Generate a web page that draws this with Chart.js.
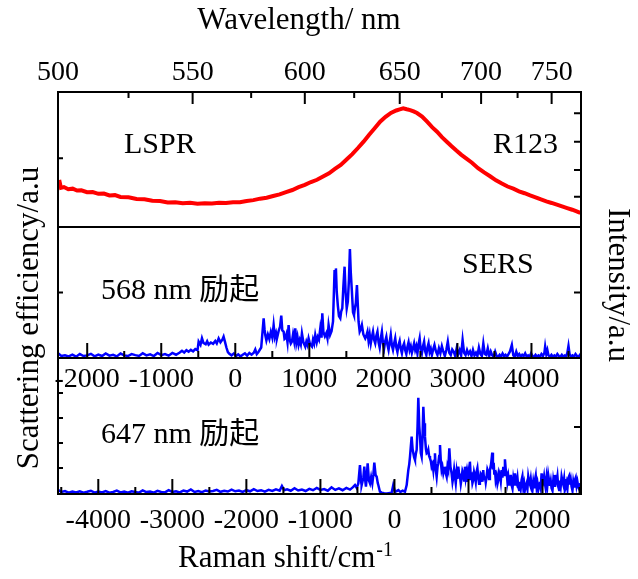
<!DOCTYPE html>
<html>
<head>
<meta charset="utf-8">
<script src="https://cdn.jsdelivr.net/npm/chart.js@4.4.1/dist/chart.umd.min.js"></script>
<style>
  html, body { margin: 0; padding: 0; background: #fff; }
  canvas { display: block; }
</style>
</head>
<body>
<canvas id="spectra" width="638" height="579"></canvas>
<script>
// wavelength window of the shared energy axis (nm)
const lamMin = 500;
const lamMax = 773;
// laser lines used for the two SERS panels (nm)
const excitationMid = 568;
const excitationBot = 647;

const topTickNm = [500, 550, 600, 650, 700, 750];
const topMinorNm = [525, 575, 625, 675, 725];
const midTicks = [-2000, -1000, 0, 1000, 2000, 3000, 4000];
const midMinor = [-1500, -500, 500, 1500, 2500, 3500, 4500];
const botTicks = [-4000, -3000, -2000, -1000, 0, 1000, 2000];
const botMinor = [-4500, -3500, -2500, -1500, -500, 500, 1500, 2500];

// y tick marks on the frame (panel scale is 0-100)
const topLeftTicks = [51];
const topRightTicks = [22.4, 42.2, 63.2, 84.2];
const midLeftTicks = [50];
const midRightTicks = [50];
const botLeftTicks = [19.1, 37.5, 55.9, 74.3];
const botRightTicks = [49.3];

// LSPR scattering: [wavelength nm, value]
const lsprSpectrum = [
  [500.4,34.8],[501,29.0],[502,29.6],[503.5,28.0],[505,28.4],[506.5,27.0],[508,27.2],[510,25.8],[512,25.9],[514,24.6],
  [516,24.8],[518,23.4],[520,23.6],[522,22.3],[525,22.0],[528,20.8],[531,20.6],[534,19.4],[537,19.3],[540,18.2],
  [543,18.4],[546,17.6],[549,17.9],[552,17.3],[555,17.6],[558,17.4],[561,18.0],[564,17.7],[567,18.4],[570,18.4],
  [573,19.3],[576,19.9],[579,21.0],[582,21.7],[585,23.0],[588,24.2],[591,25.9],[594,27.4],[597,29.5],[600,31.2],
  [603,33.3],[606,35.0],[609,37.4],[612,39.8],[615,43.0],[618,46.0],[621,50.0],[624,54.0],[627,58.5],[630,63.2],
  [633,68.4],[636,73.2],[639,78.0],[642,81.6],[645,84.5],[648,86.3],[650,87.1],[652,87.9],[654,87.2],[656,86.6],
  [658,85.6],[660,84.4],[663,81.8],[666,78.0],[669,74.0],[672,70.6],[675,66.6],[678,63.2],[681,59.8],[684,56.6],
  [687,53.6],[690,51.0],[694,47.6],[698,43.6],[702,40.4],[706,37.6],[710,34.6],[714,32.2],[718,30.0],[722,28.4],
  [726,26.4],[730,25.0],[734,23.4],[738,22.0],[742,20.4],[746,19.0],[750,17.8],[754,16.5],[758,15.2],[762,14.0],
  [766,12.8],[770,11.4],[772.5,10.4]
];

// SERS, 568 nm: [Raman shift cm-1, value]
const sers568 = [
  [-2390,3.5],[-2350,1.5],[-2300,2.0],[-2250,1.2],[-2200,2.5],[-2150,1.0],[-2100,3.0],[-2050,1.5],[-2000,2.0],[-1950,3.2],
  [-1900,1.3],[-1850,2.6],[-1800,1.5],[-1750,3.5],[-1700,1.8],[-1650,2.4],[-1600,1.2],[-1550,3.4],[-1500,2.0],[-1450,1.5],
  [-1400,3.0],[-1350,2.2],[-1300,1.6],[-1250,3.6],[-1200,2.0],[-1150,2.8],[-1100,1.5],[-1050,3.8],[-1000,2.2],[-950,3.0],
  [-900,1.8],[-850,3.9],[-800,2.5],[-750,4.2],[-720,5.5],[-690,4.2],[-660,6.0],[-630,4.8],[-600,6.2],[-570,5.0],
  [-540,6.8],[-510,6.0],[-495,12.5],[-470,10.0],[-450,15.0],[-430,11.5],[-400,10.5],[-380,12.8],[-360,10.2],[-330,11.8],
  [-300,10.8],[-270,13.0],[-250,11.2],[-225,15.0],[-200,12.0],[-175,14.0],[-158,16.3],[-140,12.5],[-120,8.0],[-100,4.5],
  [-80,3.2],[-50,2.0],[-20,3.5],[10,1.5],[40,2.8],[70,1.2],[100,2.5],[130,3.5],[160,1.8],[190,3.8],
  [220,2.5],[250,4.0],[270,6.5],[290,3.0],[315,4.8],[350,8.0],[383,30.3],[395,22.0],[405,17.6],[420,13.5],
  [440,18.0],[460,14.5],[480,20.0],[500,15.5],[518,25.2],[535,16.0],[550,19.0],[563,15.0],[585,20.5],[605,24.0],
  [621,32.3],[635,21.0],[653,20.1],[665,14.5],[675,15.0],[690,18.0],[705,12.0],[720,25.2],[735,14.0],[750,11.0],
  [765,12.5],[780,18.0],[795,13.0],[810,22.6],[825,11.5],[840,16.0],[855,9.9],[870,13.5],[885,10.5],[900,18.8],
  [920,12.0],[945,8.7],[960,12.5],[975,10.0],[990,15.0],[1010,10.5],[1035,8.7],[1050,14.0],[1065,11.0],[1080,17.6],
  [1100,12.0],[1115,16.0],[1130,14.0],[1148,22.6],[1165,15.5],[1175,34.1],[1190,20.0],[1210,16.5],[1230,19.0],[1245,15.0],
  [1260,25.2],[1280,17.6],[1300,20.5],[1320,28.0],[1341,67.2],[1352,60.0],[1359,68.4],[1370,50.6],[1385,40.0],[1400,32.0],
  [1418,30.3],[1430,35.4],[1445,38.0],[1460,55.0],[1476,69.7],[1490,50.0],[1505,37.9],[1520,43.0],[1535,60.0],[1548,83.2],
  [1560,65.0],[1575,50.6],[1590,35.0],[1603,32.8],[1615,38.0],[1628,42.0],[1643,55.7],[1655,40.0],[1665,27.7],[1680,20.1],
  [1695,22.0],[1710,25.2],[1730,18.0],[1755,15.0],[1770,17.0],[1785,20.1],[1800,13.0],[1815,18.0],[1830,11.2],[1845,16.0],
  [1860,20.1],[1875,14.0],[1890,11.2],[1905,17.0],[1920,20.1],[1935,12.0],[1950,8.0],[1965,15.0],[1980,20.1],[1995,11.0],
  [2010,7.4],[2025,13.0],[2040,16.3],[2055,10.0],[2070,6.1],[2085,12.0],[2100,17.6],[2115,9.5],[2130,6.1],[2145,11.0],
  [2160,15.0],[2175,8.0],[2190,4.5],[2205,10.0],[2220,13.0],[2235,7.0],[2250,3.6],[2265,9.0],[2280,11.2],[2295,6.0],
  [2310,3.0],[2325,8.5],[2340,12.0],[2355,6.1],[2370,9.0],[2385,4.0],[2400,7.5],[2415,11.2],[2430,6.1],[2445,9.0],
  [2460,3.5],[2475,10.5],[2490,15.0],[2505,6.0],[2520,3.6],[2535,9.0],[2550,12.5],[2565,5.0],[2580,2.3],[2595,8.0],
  [2610,11.2],[2625,4.5],[2640,7.0],[2655,2.3],[2670,6.0],[2690,9.9],[2710,5.0],[2730,2.3],[2750,7.4],[2770,3.6],
  [2790,9.0],[2810,4.8],[2830,1.5],[2850,6.1],[2870,12.5],[2890,4.0],[2910,2.3],[2930,6.5],[2950,4.8],[2970,1.5],
  [2990,7.4],[3010,3.0],[3030,6.1],[3050,2.0],[3070,13.7],[3090,4.0],[3110,2.3],[3130,6.1],[3150,3.0],[3170,5.0],
  [3190,1.5],[3210,6.1],[3230,2.0],[3250,4.0],[3270,1.5],[3290,8.0],[3310,3.0],[3330,1.5],[3350,11.2],[3370,3.0],
  [3390,2.3],[3410,7.4],[3430,1.5],[3450,5.0],[3470,2.0],[3490,1.0],[3510,4.8],[3530,1.5],[3550,1.0],[3570,2.5],
  [3590,1.0],[3610,3.5],[3630,1.5],[3650,2.5],[3670,1.0],[3690,3.0],[3710,5.0],[3735,9.9],[3755,2.0],[3775,1.0],
  [3795,4.8],[3815,1.5],[3835,3.0],[3855,1.0],[3875,2.5],[3895,1.5],[3915,3.6],[3935,1.0],[3955,2.0],[3975,1.0],
  [3995,3.6],[4015,1.5],[4035,1.0],[4055,2.5],[4075,1.0],[4095,2.0],[4115,1.0],[4135,3.0],[4155,1.5],[4175,4.0],
  [4185,8.7],[4200,3.0],[4215,6.1],[4230,2.0],[4250,1.0],[4270,2.5],[4290,1.0],[4310,2.0],[4330,1.0],[4350,3.0],
  [4370,1.5],[4390,1.0],[4410,2.5],[4430,1.0],[4450,2.0],[4470,1.5],[4485,4.0],[4500,9.2],[4515,3.0],[4535,1.0],
  [4555,2.0],[4575,1.0],[4595,3.0],[4615,1.5],[4635,1.0],[4655,2.5],[4668,1.5]
];

// SERS, 647 nm: [Raman shift cm-1, value]
const sers647 = [
  [-4540,3.0],[-4500,1.5],[-4450,2.2],[-4400,1.0],[-4350,1.8],[-4300,1.2],[-4250,2.0],[-4200,1.0],[-4150,1.6],[-4100,2.4],
  [-4050,1.0],[-4000,1.8],[-3950,1.2],[-3900,2.2],[-3850,1.0],[-3800,1.5],[-3750,2.5],[-3700,1.2],[-3650,1.8],[-3600,1.0],
  [-3550,2.0],[-3500,1.5],[-3450,1.0],[-3400,2.6],[-3350,1.4],[-3300,1.8],[-3250,1.0],[-3200,2.3],[-3150,1.5],[-3100,1.2],
  [-3050,2.8],[-3000,1.5],[-2950,2.0],[-2900,1.2],[-2850,2.5],[-2800,1.8],[-2750,3.4],[-2700,1.5],[-2650,2.2],[-2600,1.4],
  [-2550,2.6],[-2500,1.8],[-2450,2.2],[-2400,3.0],[-2350,1.6],[-2300,2.4],[-2250,1.8],[-2200,3.2],[-2150,2.0],[-2100,2.6],
  [-2050,1.6],[-2000,2.8],[-1950,2.0],[-1900,3.6],[-1850,2.2],[-1800,2.8],[-1750,1.8],[-1700,3.0],[-1650,2.2],[-1600,3.4],
  [-1550,2.5],[-1520,5.9],[-1490,2.8],[-1450,3.5],[-1400,2.4],[-1350,4.2],[-1300,2.6],[-1250,3.2],[-1200,2.2],[-1150,3.8],
  [-1100,2.8],[-1050,4.5],[-1000,3.0],[-950,3.6],[-900,2.4],[-850,4.9],[-800,3.0],[-750,4.2],[-700,2.8],[-650,4.5],
  [-600,3.2],[-560,5.0],[-533,6.6],[-510,4.5],[-488,7.8],[-466,21.3],[-450,9.0],[-443,6.6],[-420,12.0],[-407,20.1],
  [-395,10.0],[-385,5.4],[-375,12.0],[-362,22.5],[-345,10.0],[-330,7.8],[-315,12.5],[-299,7.8],[-285,14.0],[-272,23.0],
  [-255,14.0],[-240,12.7],[-225,8.0],[-218,6.6],[-196,1.7],[-173,1.0],[-140,0.5],[-100,0.3],[-60,0.8],[-38,1.0],
  [-16,6.6],[7,1.7],[30,2.2],[52,2.9],[80,1.5],[110,2.5],[142,1.7],[165,6.6],[187,17.6],[200,22.0],
  [210,27.5],[232,42.2],[245,33.0],[255,29.9],[265,27.0],[277,25.0],[290,30.0],[300,32.4],[312,50.0],[322,70.8],
  [335,50.0],[345,42.2],[356,30.0],[367,27.5],[378,40.0],[390,64.2],[400,52.0],[412,42.2],[425,33.0],[435,29.9],
  [447,30.5],[457,32.4],[468,28.0],[480,26.2],[492,24.0],[502,20.1],[515,22.0],[525,17.6],[536,24.0],[547,29.9],
  [558,18.0],[570,12.7],[582,20.0],[592,22.5],[604,28.0],[615,36.0],[626,24.0],[637,17.6],[648,20.0],[660,15.2],
  [671,18.0],[682,20.1],[694,15.0],[705,12.7],[716,20.0],[727,17.6],[741,33.6],[756,20.0],[772,15.2],[784,9.0],
  [795,12.7],[806,18.0],[817,12.7],[828,8.0],[840,16.0],[851,11.0],[862,20.1],[873,15.0],[885,13.0],[896,7.5],
  [907,11.5],[918,17.0],[930,15.0],[941,10.0],[952,20.1],[963,12.0],[975,16.0],[986,9.0],[997,15.2],[1008,11.0],
  [1019,23.8],[1030,13.0],[1042,14.0],[1053,8.0],[1064,10.3],[1075,16.0],[1087,13.0],[1098,9.0],[1109,16.4],[1120,19.0],
  [1132,12.0],[1143,7.5],[1154,10.3],[1165,15.0],[1177,14.0],[1188,9.0],[1199,17.6],[1210,11.0],[1222,13.0],[1233,8.5],
  [1244,12.7],[1255,18.0],[1267,16.0],[1278,11.0],[1289,17.6],[1305,22.0],[1321,30.4],[1330,18.0],[1340,23.0],[1348,15.0],
  [1357,17.6],[1368,10.0],[1380,13.0],[1391,7.5],[1402,10.3],[1413,16.0],[1425,14.0],[1436,9.5],[1447,17.6],[1458,12.0],
  [1470,20.0],[1481,14.0],[1492,25.5],[1503,18.0],[1515,16.0],[1526,9.0],[1537,12.7],[1548,7.0],[1560,9.0],[1571,14.0],
  [1582,6.6],[1594,4.0],[1605,11.0],[1616,7.0],[1627,15.2],[1638,10.0],[1650,8.0],[1661,12.0],[1672,5.4],[1684,3.0],
  [1695,9.0],[1706,4.5],[1717,10.3],[1728,13.0],[1740,5.0],[1751,8.0],[1762,2.9],[1774,6.0],[1785,8.0],[1796,4.0],
  [1807,12.7],[1818,9.0],[1830,7.0],[1841,11.0],[1852,5.4],[1863,2.5],[1875,9.0],[1886,5.0],[1897,10.3],[1908,13.5],
  [1920,5.0],[1931,8.0],[1942,2.9],[1954,6.0],[1965,9.0],[1976,5.0],[1987,15.2],[1998,11.0],[2010,9.0],[2021,13.0],
  [2032,7.8],[2043,4.0],[2055,12.0],[2066,7.0],[2077,14.0],[2088,10.0],[2100,6.0],[2111,9.5],[2122,4.2],[2134,2.5],
  [2145,10.0],[2156,6.0],[2167,14.0],[2178,11.0],[2190,9.0],[2201,13.0],[2212,5.4],[2224,3.0],[2235,10.0],[2246,6.0],
  [2257,12.7],[2268,9.5],[2280,7.0],[2291,11.0],[2302,2.9],[2314,5.0],[2325,8.0],[2336,4.0],[2347,11.5],[2358,13.0],
  [2370,7.0],[2381,10.5],[2392,5.4],[2404,2.5],[2415,9.0],[2426,5.5],[2437,10.3],[2448,12.0],[2460,6.0],[2471,9.0],
  [2482,5.4],[2496,3.5],[2510,8.0]
];

const SERIF = '"Liberation Serif", "Times New Roman", serif';
const TEXT_FONT = '"Liberation Serif", "Noto Sans CJK SC", serif';

// energy axis: everything sits on the same wavenumber window
const wnMax = 1e7 / lamMin;
const wnMin = 1e7 / lamMax;
const wnMid = 1e7 / excitationMid;
const wnBot = 1e7 / excitationBot;

function hiddenPanelAxis(weight, stackWeight) {
    return {
        type: 'linear',
        position: 'left',
        stack: 'panels',
        stackWeight: stackWeight,
        weight: weight,
        min: 0,
        max: 100,
        ticks: { display: false },
        grid: { display: false, drawTicks: false },
        border: { display: false },
        afterFit: s => { s.width = 0; }
    };
}

function tickFont() {
    return { family: SERIF, size: 28 };
}

// frame, inward ticks and all free text
const framePlugin = {
    id: 'framePlugin',
    afterDraw(chart) {
        const { ctx, chartArea: a, scales } = chart;
        const yMidTop = scales.yTop.bottom;
        const yBotTop = scales.yMid.bottom;

        ctx.save();
        ctx.strokeStyle = '#000';
        ctx.lineWidth = 2;
        ctx.beginPath();
        ctx.rect(a.left, a.top, a.right - a.left, a.bottom - a.top);
        ctx.moveTo(a.left, yMidTop); ctx.lineTo(a.right, yMidTop);
        ctx.moveTo(a.left, yBotTop); ctx.lineTo(a.right, yBotTop);

        const vtick = (x, y, len) => { ctx.moveTo(x, y); ctx.lineTo(x, y + len); };
        const htick = (x, y, len) => { ctx.moveTo(x, y); ctx.lineTo(x + len, y); };

        topTickNm.forEach(nm => vtick(scales.xTop.getPixelForValue(1e7 / nm), a.top, 12));
        topMinorNm.forEach(nm => vtick(scales.xTop.getPixelForValue(1e7 / nm), a.top, 6));
        midTicks.forEach(v => vtick(scales.xMid.getPixelForValue(v), yBotTop, -15));
        midMinor.forEach(v => vtick(scales.xMid.getPixelForValue(v), yBotTop, -7));
        botTicks.forEach(v => vtick(scales.xBot.getPixelForValue(v), a.bottom, -15));
        botMinor.forEach(v => vtick(scales.xBot.getPixelForValue(v), a.bottom, -7));

        topLeftTicks.forEach(v => htick(a.left, scales.yTop.getPixelForValue(v), 5));
        topRightTicks.forEach(v => htick(a.right, scales.yTop.getPixelForValue(v), -7));
        midLeftTicks.forEach(v => htick(a.left, scales.yMid.getPixelForValue(v), 5));
        midRightTicks.forEach(v => htick(a.right, scales.yMid.getPixelForValue(v), -7));
        botLeftTicks.forEach(v => htick(a.left, scales.yBot.getPixelForValue(v), 5));
        botRightTicks.forEach(v => htick(a.right, scales.yBot.getPixelForValue(v), -7));
        ctx.stroke();

        ctx.fillStyle = '#000';
        ctx.textBaseline = 'middle';

        // axis titles
        ctx.font = '31px ' + SERIF;
        ctx.textAlign = 'center';
        ctx.fillText('Wavelength/ nm', 299, 21);

        const mainTitle = 'Raman shift/cm';
        const wMain = ctx.measureText(mainTitle).width;
        ctx.font = '20px ' + SERIF;
        const wSup = ctx.measureText('-1').width;
        const startX = 285 - (wMain + wSup) / 2;
        ctx.textAlign = 'left';
        ctx.textBaseline = 'alphabetic';
        ctx.fillText('-1', startX + wMain + 1, 556);
        ctx.font = '31px ' + SERIF;
        ctx.fillText(mainTitle, startX, 567);

        ctx.textBaseline = 'middle';
        ctx.textAlign = 'center';
        ctx.save();
        ctx.translate(30, 318);
        ctx.rotate(-Math.PI / 2);
        ctx.fillText('Scattering efficiency/a.u', 0, 0);
        ctx.restore();
        ctx.save();
        ctx.translate(617, 285);
        ctx.rotate(Math.PI / 2);
        ctx.fillText('Intensity/a.u', 0, 0);
        ctx.restore();

        // panel annotations
        ctx.font = '30px ' + TEXT_FONT;
        ctx.textAlign = 'left';
        ctx.fillText('LSPR', 124, 145);
        ctx.fillText('R123', 493, 145);
        ctx.fillText('SERS', 462, 265);
        ctx.fillText('568 nm 励起', 101, 291);
        ctx.fillText('647 nm 励起', 101, 435);
        ctx.restore();
    }
};

new Chart(document.getElementById('spectra'), {
    type: 'line',
    data: {
        datasets: [
            {
                label: 'LSPR',
                data: lsprSpectrum.map(([nm, v]) => ({ x: 1e7 / nm, y: v })),
                xAxisID: 'xTop',
                yAxisID: 'yTop',
                borderColor: '#ff0000',
                borderWidth: 4,
                pointRadius: 0,
                tension: 0
            },
            {
                label: '568 nm',
                data: sers568.map(([s, v]) => ({ x: s, y: v })),
                xAxisID: 'xMid',
                yAxisID: 'yMid',
                borderColor: '#0000ff',
                borderWidth: 2.5,
                pointRadius: 0,
                tension: 0
            },
            {
                label: '647 nm',
                data: sers647.map(([s, v]) => ({ x: s, y: v })),
                xAxisID: 'xBot',
                yAxisID: 'yBot',
                borderColor: '#0000ff',
                borderWidth: 2.5,
                pointRadius: 0,
                tension: 0
            }
        ]
    },
    options: {
        responsive: false,
        animation: false,
        devicePixelRatio: 1,
        layout: { padding: { top: 40, left: 58, right: 57, bottom: 45 } },
        plugins: {
            legend: { display: false },
            tooltip: { enabled: false }
        },
        scales: {
            xTop: {
                type: 'linear',
                axis: 'x',
                position: 'top',
                reverse: true,
                min: wnMin,
                max: wnMax,
                grid: { display: false, drawTicks: false },
                border: { display: false },
                ticks: {
                    autoSkip: false, maxRotation: 0, padding: 3,
                    color: '#000', font: tickFont(),
                    callback: v => Math.round(1e7 / v)
                },
                afterBuildTicks: s => { s.ticks = topTickNm.map(nm => ({ value: 1e7 / nm })); },
                afterFit: s => { s.height = 52; }
            },
            xMid: {
                type: 'linear',
                axis: 'x',
                position: { yMid: 0 },
                min: wnMid - wnMax,
                max: wnMid - wnMin,
                grid: { display: false, drawTicks: false },
                border: { display: false },
                ticks: {
                    autoSkip: false, maxRotation: 0, padding: 5,
                    color: '#000', font: tickFont(),
                    callback: v => String(v)
                },
                afterBuildTicks: s => { s.ticks = midTicks.map(v => ({ value: v })); }
            },
            xBot: {
                type: 'linear',
                axis: 'x',
                position: 'bottom',
                min: wnBot - wnMax,
                max: wnBot - wnMin,
                grid: { display: false, drawTicks: false },
                border: { display: false },
                ticks: {
                    autoSkip: false, maxRotation: 0, padding: 10,
                    color: '#000', font: tickFont(),
                    callback: v => String(v)
                },
                afterBuildTicks: s => { s.ticks = botTicks.map(v => ({ value: v })); },
                afterFit: s => { s.height = 40; }
            },
            yTop: hiddenPanelAxis(3, 135),
            yMid: hiddenPanelAxis(2, 131),
            yBot: hiddenPanelAxis(1, 136)
        }
    },
    plugins: [framePlugin]
});
</script>
</body>
</html>
